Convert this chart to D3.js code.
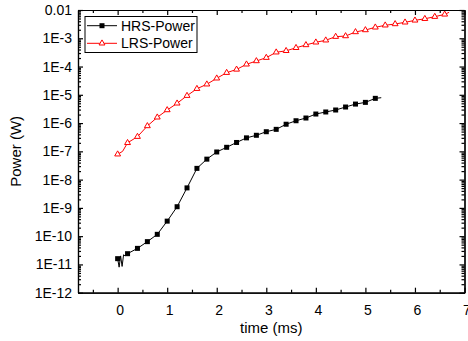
<!DOCTYPE html>
<html>
<head>
<meta charset="utf-8">
<script src="https://cdn.jsdelivr.net/npm/d3@7"></script>
<style>
  body { margin: 0; background: #fff; }
  text { font-family: "Liberation Sans", Arial, sans-serif; }
</style>
</head>
<body>
<div id="chart"></div>
<script>
// HRS power vs time (ms); markers sit on the 0.2 ms points
const hrsTime = [0, 0.03, 0.06, 0.09, 0.12, 0.15, 0.2, 0.4, 0.6, 0.8, 1.0, 1.2, 1.4, 1.6, 1.8, 2.0,
  2.2, 2.4, 2.6, 2.8, 3.0, 3.2, 3.4, 3.6, 3.8, 4.0, 4.2, 4.4, 4.6, 4.8, 5.0, 5.2, 5.32];
const hrsPower = [1.6e-11, 8e-12, 2.0e-11, 8.5e-12, 2.2e-11, 2.0e-11, 2.4e-11, 3.7e-11, 6.4e-11, 1.16e-10,
  3.4e-10, 1.1e-9, 5.1e-9, 2.5e-8, 5.3e-8, 9.5e-8, 1.39e-7, 2.06e-7, 3.0e-7, 3.7e-7, 4.95e-7, 6.0e-7,
  9.1e-7, 1.21e-6, 1.51e-6, 2.09e-6, 2.47e-6, 2.9e-6, 3.7e-6, 4.7e-6, 5.4e-6, 7.5e-6, 7.9e-6];

// LRS power vs time (ms)
const lrsTime = [0, 0.1, 0.2, 0.4, 0.6, 0.8, 1.0, 1.2, 1.4, 1.6, 1.8, 2.0, 2.2, 2.4, 2.6, 2.8, 3.0,
  3.2, 3.4, 3.6, 3.8, 4.0, 4.2, 4.4, 4.6, 4.8, 5.0, 5.2, 5.4, 5.6, 5.8, 6.0, 6.2, 6.4, 6.6, 6.69];
const lrsPower = [7.9e-8, 1.0e-7, 2.0e-7, 3.3e-7, 7.9e-7, 1.6e-6, 2.9e-6, 5.0e-6, 9.3e-6, 1.64e-5,
  2.36e-5, 3.84e-5, 6.05e-5, 7.9e-5, 1.2e-4, 1.57e-4, 2.06e-4, 3.2e-4, 3.6e-4, 4.6e-4, 5.8e-4, 7.2e-4,
  8.5e-4, 1.14e-3, 1.2e-3, 1.67e-3, 1.96e-3, 2.44e-3, 2.88e-3, 3.2e-3, 3.67e-3, 4.3e-3, 4.9e-3,
  5.8e-3, 7.0e-3, 8.3e-3];

const xMajor = [0, 1, 2, 3, 4, 5, 6, 7];
const xMinor = [-0.5, 0.5, 1.5, 2.5, 3.5, 4.5, 5.5, 6.5];
const yExponents = [-12, -11, -10, -9, -8, -7, -6, -5, -4, -3, -2];
const seriesNames = ['HRS-Power', 'LRS-Power'];

const W = 468, H = 341;
const plot = { left: 78, right: 464.5, top: 10, bottom: 292.7 };

const svg = d3.select('#chart').append('svg')
  .attr('width', W)
  .attr('height', H);

const x = d3.scaleLinear().domain([-0.8, 7]).range([plot.left, plot.right]);
const y = d3.scaleLog().domain([1e-12, 1e-2]).range([plot.bottom, plot.top]);

const yMajor = yExponents.map(e => Math.pow(10, e));
const yMinor = [];
yExponents.slice(0, -1).forEach(e => {
  for (let k = 2; k <= 9; k++) yMinor.push(k * Math.pow(10, e));
});

const fmtY = v => {
  const e = Math.round(Math.log10(v));
  return e === -2 ? '0.01' : '1E' + e;
};

function styleAxis(g) {
  g.selectAll('path,line').attr('stroke', '#000').attr('stroke-width', 1.2);
  g.selectAll('text').attr('fill', '#000').style('font-size', '14px')
    .style('font-family', '"Liberation Sans", Arial, sans-serif');
}

// bottom axis
svg.append('g').attr('transform', `translate(0,${plot.bottom})`)
  .call(d3.axisBottom(x).tickValues(xMajor).tickFormat(d3.format('d')).tickSize(-5).tickSizeOuter(0).tickPadding(12))
  .call(styleAxis)
  .selectAll('text').attr('dx', 2);
svg.append('g').attr('transform', `translate(0,${plot.bottom})`)
  .call(d3.axisBottom(x).tickValues(xMinor).tickFormat('').tickSize(-3).tickSizeOuter(0))
  .call(styleAxis);

// top axis
svg.append('g').attr('transform', `translate(0,${plot.top})`)
  .call(d3.axisTop(x).tickValues(xMajor).tickFormat('').tickSize(-5).tickSizeOuter(0))
  .call(styleAxis);
svg.append('g').attr('transform', `translate(0,${plot.top})`)
  .call(d3.axisTop(x).tickValues(xMinor).tickFormat('').tickSize(-3).tickSizeOuter(0))
  .call(styleAxis);

// left axis
svg.append('g').attr('transform', `translate(${plot.left},0)`)
  .call(d3.axisLeft(y).tickValues(yMajor).tickFormat(fmtY).tickSize(-5).tickSizeOuter(0).tickPadding(6))
  .call(styleAxis);
svg.append('g').attr('transform', `translate(${plot.left},0)`)
  .call(d3.axisLeft(y).tickValues(yMinor).tickFormat('').tickSize(-3).tickSizeOuter(0))
  .call(styleAxis);

// right axis
svg.append('g').attr('transform', `translate(${plot.right},0)`)
  .call(d3.axisRight(y).tickValues(yMajor).tickFormat('').tickSize(-5).tickSizeOuter(0))
  .call(styleAxis);
svg.append('g').attr('transform', `translate(${plot.right},0)`)
  .call(d3.axisRight(y).tickValues(yMinor).tickFormat('').tickSize(-3).tickSizeOuter(0))
  .call(styleAxis);

// axis titles
svg.append('text')
  .attr('x', (plot.left + plot.right) / 2)
  .attr('y', 333)
  .attr('text-anchor', 'middle')
  .style('font-size', '15px')
  .text('time (ms)');

svg.append('text')
  .attr('transform', `translate(21,${(plot.top + plot.bottom) / 2}) rotate(-90)`)
  .attr('text-anchor', 'middle')
  .style('font-size', '15px')
  .text('Power (W)');

const line = d3.line()
  .x(d => x(d[0]))
  .y(d => y(d[1]));

const onGrid = t => Math.abs(t * 5 - Math.round(t * 5)) < 1e-6;

const hrs = hrsTime.map((t, i) => [t, hrsPower[i]]);
const lrs = lrsTime.map((t, i) => [t, lrsPower[i]]);

// HRS series
svg.append('path')
  .datum(hrs)
  .attr('fill', 'none')
  .attr('stroke', '#000')
  .attr('stroke-width', 1)
  .attr('d', line);

svg.selectAll('.hrs-pt')
  .data(hrs.filter(d => onGrid(d[0])))
  .enter().append('rect')
  .attr('class', 'hrs-pt')
  .attr('x', d => x(d[0]) - 2.5)
  .attr('y', d => y(d[1]) - 2.5)
  .attr('width', 5)
  .attr('height', 5)
  .attr('fill', '#000');

// LRS series
svg.append('path')
  .datum(lrs)
  .attr('fill', 'none')
  .attr('stroke', '#ff0000')
  .attr('stroke-width', 1)
  .attr('d', line);

const tri = d3.symbol().type(d3.symbolTriangle).size(15);

svg.selectAll('.lrs-pt')
  .data(lrs.filter(d => onGrid(d[0])))
  .enter().append('path')
  .attr('class', 'lrs-pt')
  .attr('transform', d => `translate(${x(d[0])},${y(d[1])})`)
  .attr('d', tri)
  .attr('fill', '#fff')
  .attr('stroke', '#ff0000')
  .attr('stroke-width', 1);

// legend
const lg = svg.append('g');
lg.append('rect')
  .attr('x', 85).attr('y', 16.5)
  .attr('width', 112).attr('height', 36)
  .attr('fill', '#fff')
  .attr('stroke', '#000')
  .attr('stroke-width', 1);

const rows = [25.7, 43.3];
seriesNames.forEach((name, i) => {
  const col = i === 0 ? '#000' : '#ff0000';
  lg.append('line')
    .attr('x1', 87).attr('x2', 117)
    .attr('y1', rows[i]).attr('y2', rows[i])
    .attr('stroke', col).attr('stroke-width', 1);
  if (i === 0) {
    lg.append('rect')
      .attr('x', 99.5).attr('y', rows[i] - 2.5)
      .attr('width', 5).attr('height', 5)
      .attr('fill', '#000');
  } else {
    lg.append('path')
      .attr('transform', `translate(102,${rows[i]})`)
      .attr('d', tri)
      .attr('fill', '#fff')
      .attr('stroke', col);
  }
  lg.append('text')
    .attr('x', 121)
    .attr('y', rows[i])
    .attr('dy', '0.36em')
    .style('font-size', '14px')
    .text(name);
});
</script>
</body>
</html>
